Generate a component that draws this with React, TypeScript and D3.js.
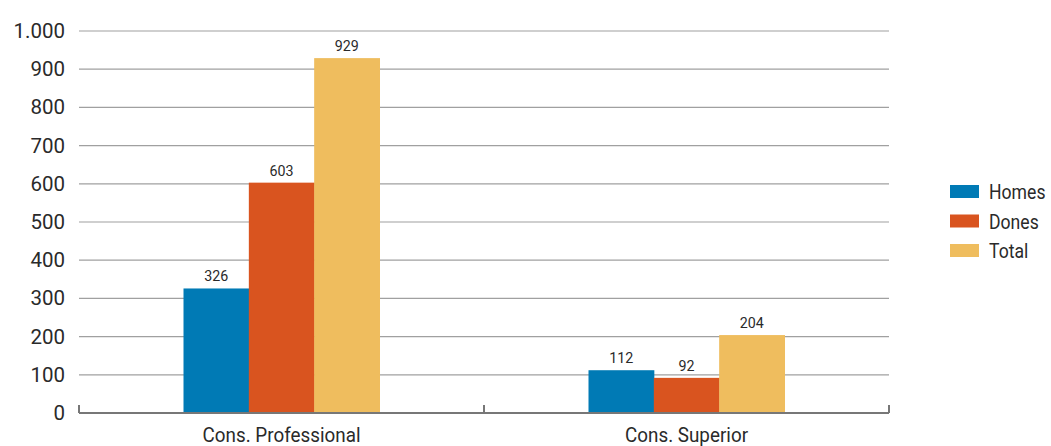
import { useEffect, useRef } from "react";
import * as d3 from "d3";

const categories = ["Cons. Professional", "Cons. Superior"];
const seriesNames = ["Homes", "Dones", "Total"];
const homes = [326, 112];
const dones = [603, 92];
const total = [929, 204];
const yTicks = [0, 100, 200, 300, 400, 500, 600, 700, 800, 900, 1000];
const colors = ["#007ab5", "#d9541f", "#efbd5e"];

const font = "Roboto, 'Liberation Sans', sans-serif";

const App = () => {
  const ref = useRef<SVGSVGElement>(null);

  useEffect(() => {
    const svg = d3.select(ref.current);
    svg.selectAll("*").remove();

    const values = [homes, dones, total];
    const x0 = d3.scaleBand().domain(categories).range([79, 889]);
    const x1 = d3.scaleBand().domain(seriesNames).range([0, 196]);
    const y = d3.scaleLinear().domain([0, 1000]).range([413, 31]);

    // grid
    svg
      .append("g")
      .selectAll("line")
      .data(yTicks.filter((t) => t > 0))
      .join("line")
      .attr("x1", 79)
      .attr("x2", 889)
      .attr("y1", (d) => y(d))
      .attr("y2", (d) => y(d))
      .attr("stroke", "#a0a0a0")
      .attr("stroke-width", 1.2);

    // y labels
    svg
      .append("g")
      .selectAll("text")
      .data(yTicks)
      .join("text")
      .attr("x", 65)
      .attr("y", (d) => y(d) + 7)
      .attr("text-anchor", "end")
      .attr("font-family", font)
      .attr("font-size", 20.5)
      .attr("fill", "#2a2a2a")
      .text((d) => d3.format(",")(d).replace(",", "."));

    // bars
    categories.forEach((c, ci) => {
      const g = svg.append("g").attr("transform", `translate(${x0(c)! + (x0.bandwidth() - 196) / 2},0)`);
      g.selectAll("rect")
        .data(seriesNames)
        .join("rect")
        .attr("x", (s) => x1(s)!)
        .attr("width", x1.bandwidth() + 0.5)
        .attr("y", (s, si) => y(values[si][ci]))
        .attr("height", (s, si) => y(0) - y(values[si][ci]))
        .attr("fill", (s, si) => colors[si]);
      g.selectAll("text")
        .data(seriesNames)
        .join("text")
        .attr("transform", (s, si) => `translate(${x1(s)! + x1.bandwidth() / 2},${y(values[si][ci]) - 7}) scale(0.92,1)`)
        .attr("text-anchor", "middle")
        .attr("font-family", font)
        .attr("font-size", 15.5)
        .attr("fill", "#2a2a2a")
        .text((s, si) => values[si][ci]);
    });

    // x axis
    svg
      .append("line")
      .attr("x1", 79)
      .attr("x2", 889)
      .attr("y1", 413)
      .attr("y2", 413)
      .attr("stroke", "#777")
      .attr("stroke-width", 2);
    svg
      .append("g")
      .selectAll("line")
      .data([79, 484, 889])
      .join("line")
      .attr("x1", (d) => d)
      .attr("x2", (d) => d)
      .attr("y1", 405)
      .attr("y2", 413)
      .attr("stroke", "#777")
      .attr("stroke-width", 2);
    svg
      .append("g")
      .selectAll("text")
      .data(categories)
      .join("text")
      .attr("transform", (d) => `translate(${x0(d)! + x0.bandwidth() / 2},442) scale(0.92,1)`)
      .attr("text-anchor", "middle")
      .attr("font-family", font)
      .attr("font-size", 20.5)
      .attr("fill", "#2a2a2a")
      .text((d) => d);

    // legend
    const lg = svg
      .append("g")
      .selectAll("g")
      .data(seriesNames)
      .join("g")
      .attr("transform", (d, i) => `translate(950,${185 + i * 29.5})`);
    lg.append("rect")
      .attr("width", 29)
      .attr("height", 13)
      .attr("fill", (d, i) => colors[i]);
    lg.append("text")
      .attr("transform", "translate(39,14) scale(0.86,1)")
      .attr("font-family", font)
      .attr("font-size", 20.5)
      .attr("fill", "#2a2a2a")
      .text((d) => d);
  }, []);

  return (
    <svg
      ref={ref}
      width={1051}
      height={446}
      style={{ position: "absolute", left: 0, top: 0, background: "#fff" }}
    ></svg>
  );
};

export default App;
